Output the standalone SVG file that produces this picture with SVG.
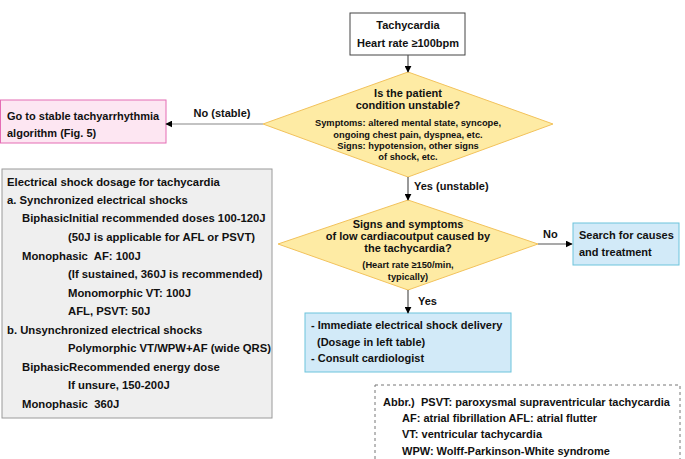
<svg xmlns="http://www.w3.org/2000/svg" width="685" height="459" viewBox="0 0 685 459">
<defs>
<marker id="ah" viewBox="0 0 10 10" refX="9" refY="5" markerWidth="7" markerHeight="7" orient="auto" markerUnits="userSpaceOnUse"><path d="M0,0 L10,5 L0,10 z" fill="#000"/></marker>
<style>
text{font-family:"Liberation Sans",Arial,sans-serif;font-weight:bold;fill:#111}
.t11{font-size:11px}
.t9{font-size:9.3px}
.tg{font-size:11.3px}
.dia{fill:#feeba4;stroke:#f2c25c;stroke-width:1}
.blue{fill:#d2eaf8;stroke:#6cc4dc;stroke-width:1}
.conn{stroke:#555;stroke-width:1.2;fill:none;marker-end:url(#ah)}
.mid{text-anchor:middle}
</style>
</defs>
<rect width="685" height="459" fill="#fff"/>

<g id="start">
<rect x="350" y="13" width="115" height="42" fill="#fff" stroke="#444" stroke-width="1"/>
<text class="t11 mid" x="408" y="29">Tachycardia</text>
<text class="t11 mid" x="408" y="47">Heart rate ≥100bpm</text>
</g>

<g id="decision1">
<polygon class="dia" points="408,72 553,124 408,177 263,124"/>
<text class="t11 mid" x="408" y="97">Is the patient</text>
<text class="t11 mid" x="408" y="109">condition unstable?</text>
<text class="t9 mid" x="408" y="126">Symptoms: altered mental state, syncope,</text>
<text class="t9 mid" x="408" y="138">ongoing chest pain, dyspnea, etc.</text>
<text class="t9 mid" x="408" y="149">Signs: hypotension, other signs</text>
<text class="t9 mid" x="408" y="160">of shock, etc.</text>
</g>

<g id="stable">
<rect x="0.5" y="100" width="165.5" height="43" fill="#fde6f2" stroke="#e46cb4" stroke-width="1"/>
<text class="t11" x="7" y="120">Go to stable tachyarrhythmia</text>
<text class="t11" x="7" y="137">algorithm (Fig. 5)</text>
</g>

<g id="dosage">
<rect x="2" y="169" width="270" height="249" fill="#efefef" stroke="#9a9a9a" stroke-width="1"/>
<text class="tg" x="7" y="186">Electrical shock dosage for tachycardia</text>
<text class="tg" x="7" y="204">a. Synchronized electrical shocks</text>
<text class="tg" x="22" y="222">BiphasicInitial recommended doses 100-120J</text>
<text class="tg" x="68" y="241">(50J is applicable for AFL or PSVT)</text>
<text class="tg" x="22" y="260" xml:space="preserve">Monophasic  AF: 100J</text>
<text class="tg" x="68" y="278">(If sustained, 360J is recommended)</text>
<text class="tg" x="68" y="297">Monomorphic VT: 100J</text>
<text class="tg" x="68" y="315">AFL, PSVT: 50J</text>
<text class="tg" x="7" y="334">b. Unsynchronized electrical shocks</text>
<text class="tg" x="68" y="352">Polymorphic VT/WPW+AF (wide QRS)</text>
<text class="tg" x="22" y="371">BiphasicRecommended energy dose</text>
<text class="tg" x="68" y="389">If unsure, 150-200J</text>
<text class="tg" x="22" y="408" xml:space="preserve">Monophasic  360J</text>
</g>

<g id="decision2">
<polygon class="dia" points="408,200 538,244 408,290 278,244"/>
<text class="t11 mid" x="408" y="228">Signs and symptoms</text>
<text class="t11 mid" x="408" y="240">of low cardiacoutput caused by</text>
<text class="t11 mid" x="408" y="252">the tachycardia?</text>
<text class="t9 mid" x="408" y="268">(Heart rate ≥150/min,</text>
<text class="t9 mid" x="408" y="280">typically)</text>
</g>

<g id="search">
<rect class="blue" x="573" y="223" width="106" height="42"/>
<text class="t11" x="579" y="239">Search for causes</text>
<text class="t11" x="579" y="256">and treatment</text>
</g>

<g id="shock">
<rect class="blue" x="305" y="313" width="206" height="59"/>
<text class="t11" x="311" y="329">- Immediate electrical shock delivery</text>
<text class="t11" x="317" y="346">(Dosage in left table)</text>
<text class="t11" x="311" y="362">- Consult cardiologist</text>
</g>

<g id="abbr">
<rect x="375" y="385" width="305" height="80" fill="#fff" stroke="#777" stroke-width="1" stroke-dasharray="3,3"/>
<text class="t11" x="383" y="406">Abbr.)</text>
<text class="t11" x="421" y="406">PSVT: paroxysmal supraventricular tachycardia</text>
<text class="t11" x="402" y="422">AF: atrial fibrillation AFL: atrial flutter</text>
<text class="t11" x="402" y="438">VT: ventricular tachycardia</text>
<text class="t11" x="402" y="455">WPW: Wolff-Parkinson-White syndrome</text>
</g>

<g id="connectors">
<line class="conn" x1="408" y1="55" x2="408" y2="72"/>
<line class="conn" x1="263" y1="124" x2="166" y2="124" style="stroke:#888"/>
<text class="t11 mid" x="222" y="117">No (stable)</text>
<line class="conn" x1="408" y1="177" x2="408" y2="200"/>
<text class="t11" x="414" y="190">Yes (unstable)</text>
<line class="conn" x1="538" y1="244" x2="572" y2="244"/>
<text class="t11" x="543" y="238">No</text>
<line class="conn" x1="408" y1="290" x2="408" y2="313"/>
<text class="t11" x="418" y="305">Yes</text>
</g>
</svg>
